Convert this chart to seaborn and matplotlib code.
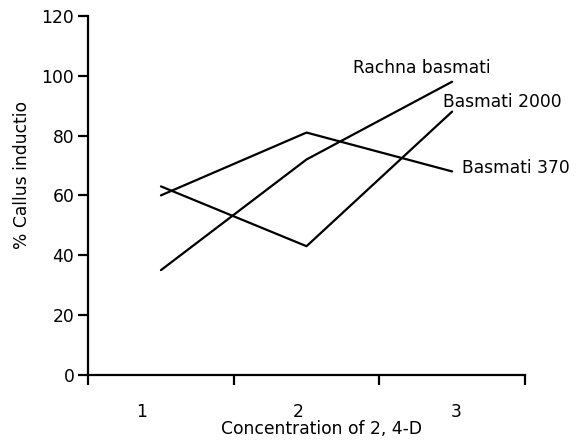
import matplotlib
matplotlib.use("Agg")
import matplotlib.pyplot as plt
import seaborn as sns
import pandas as pd

concentrations = ["1", "2", "3"]
basmati_370 = [60, 81, 68]
rachna_basmati = [35, 72, 98]
basmati_2000 = [63, 43, 88]
varieties = ["Basmati 370", "Rachna basmati", "Basmati 2000"]

x_pos = [0.5, 1.5, 2.5]
rows = []
for name, vals in zip(varieties, [basmati_370, rachna_basmati, basmati_2000]):
    for xp, v in zip(x_pos, vals):
        rows.append({"x": xp, "value": v, "variety": name})
df = pd.DataFrame(rows)

sns.set_style("ticks")
plt.rcParams["font.family"] = ["DejaVu Sans"]
plt.rcParams["text.color"] = "black"
plt.rcParams["axes.labelcolor"] = "black"
plt.rcParams["xtick.color"] = "black"
plt.rcParams["ytick.color"] = "black"
FS = 12.3

fig = plt.figure(figsize=(5.8, 4.42), dpi=100)
ax = fig.add_axes([0.152, 0.152, 0.753, 0.812])

sns.lineplot(data=df, x="x", y="value", hue="variety",
             palette=["black", "black", "black"], linewidth=1.6,
             legend=False, ax=ax, sort=False)

ax.set_xlim(0, 3)
ax.set_ylim(0, 120)
ax.set_yticks([0, 20, 40, 60, 80, 100, 120])
ax.set_xticks([0, 1, 2, 3])
ax.set_xticklabels([])
ax.set_xticks([0.37, 1.44, 2.53], minor=True)
ax.set_xticklabels(concentrations, minor=True)
ax.tick_params(axis="x", which="minor", length=0, pad=20, labelsize=FS)
ax.tick_params(axis="both", which="major", length=7, width=1.6, labelsize=FS,
               color="black", labelcolor="black")
ax.tick_params(axis="y", pad=3)

for s in ["top", "right"]:
    ax.spines[s].set_visible(False)
for s in ["left", "bottom"]:
    ax.spines[s].set_linewidth(1.6)
    ax.spines[s].set_color("black")

ax.set_xlabel("Concentration of 2, 4-D", fontsize=FS, color="black")
ax.set_ylabel("% Callus inductio", fontsize=FS, color="black")
ax.xaxis.set_label_coords(0.534, -0.125)
ax.yaxis.set_label_coords(-0.132, 0.558)

ax.text(1.82, 102.7, "Rachna basmati", fontsize=FS, va="center", ha="left", color="black")
ax.text(2.44, 91.3, "Basmati 2000", fontsize=FS, va="center", ha="left", clip_on=False, color="black")
ax.text(2.57, 69.2, "Basmati 370", fontsize=FS, va="center", ha="left", clip_on=False, color="black")

fig.savefig("out.png", dpi=100)
